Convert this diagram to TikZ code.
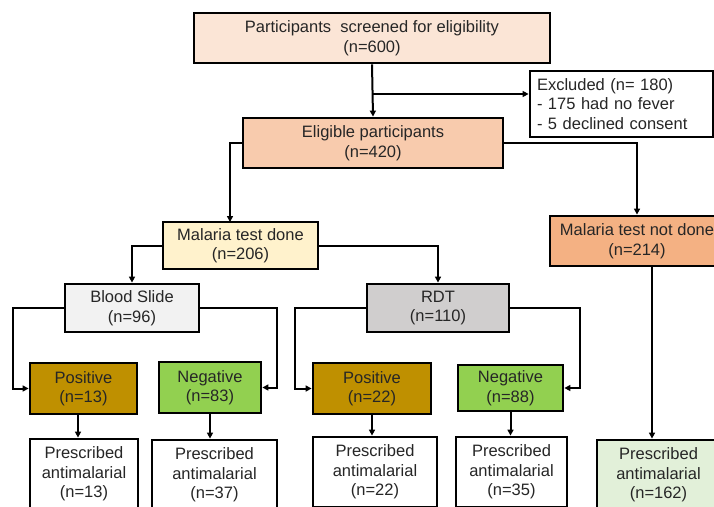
\documentclass[tikz,border=0pt]{standalone}
\usepackage{fontspec}
\setmainfont{Liberation Sans}
\usetikzlibrary{arrows.meta}
\definecolor{cTop}{HTML}{FBE5D6}
\definecolor{cElig}{HTML}{F8CBAD}
\definecolor{cDone}{HTML}{FFF2CC}
\definecolor{cNot}{HTML}{F4B183}
\definecolor{cBlood}{HTML}{F2F2F2}
\definecolor{cRdt}{HTML}{D0CECE}
\definecolor{cPos}{HTML}{BF9000}
\definecolor{cNeg}{HTML}{92D050}
\definecolor{cPres}{HTML}{E2F0D9}
\definecolor{cTxt}{HTML}{262626}
\begin{document}
\begin{tikzpicture}[x=1pt,y=1pt,
  box/.style={draw=black, line width=2.8pt, align=center, inner sep=0pt,
    text=cTxt, font=\fontsize{16.5}{19.5}\selectfont},
  arr/.style={draw=black, line width=2pt, -{Triangle[length=6pt,width=6pt]}},
  ln/.style={draw=black, line width=2pt}]
\useasboundingbox (0,0) rectangle (714,-506);
\fill[white] (0,0) rectangle (714,-506);

\node[box, fill=cTop, minimum width=356, minimum height=50] (top) at (372,-38)
  {Participants\ \ screened for eligibility\\(n=600)};
\node[box, fill=white, minimum width=183, minimum height=66, text width=169,
  align=left] (excl) at (621.5,-104)
  {Excluded (n= 180)\\- 175 had no fever\\- 5 declined consent};
\node[box, fill=cElig, minimum width=260, minimum height=50] (elig) at (373,-143)
  {Eligible participants\\(n=420)};
\node[box, fill=cDone, minimum width=155, minimum height=47] (done) at (240.5,-245.5)
  {Malaria test done\\(n=206)};
\node[box, fill=cNot, minimum width=174, minimum height=50] (notdone) at (637,-241)
  {Malaria test not done\\(n=214)};
\node[box, fill=cBlood, minimum width=134, minimum height=48] (blood) at (132,-308)
  {Blood Slide\\(n=96)};
\node[box, fill=cRdt, minimum width=142, minimum height=48] (rdt) at (438,-308)
  {RDT\\(n=110)};
\node[box, fill=cPos, minimum width=107, minimum height=51] (pos1) at (83.5,-388.5)
  {Positive\\(n=13)};
\node[box, fill=cNeg, minimum width=102, minimum height=51] (neg1) at (210,-387.5)
  {Negative\\(n=83)};
\node[box, fill=cPos, minimum width=118, minimum height=51] (pos2) at (372,-388.5)
  {Positive\\(n=22)};
\node[box, fill=cNeg, minimum width=105, minimum height=46] (neg2) at (510.5,-388)
  {Negative\\(n=88)};
\node[box, fill=white, minimum width=108, minimum height=70] (pr1) at (84,-474)
  {Prescribed\\antimalarial\\(n=13)};
\node[box, fill=white, minimum width=125, minimum height=70] (pr2) at (214.5,-475)
  {Prescribed\\antimalarial\\(n=37)};
\node[box, fill=white, minimum width=124, minimum height=70] (pr3) at (375,-472)
  {Prescribed\\antimalarial\\(n=22)};
\node[box, fill=white, minimum width=111, minimum height=70] (pr4) at (511.5,-472)
  {Prescribed\\antimalarial\\(n=35)};
\node[box, fill=cPres, minimum width=123, minimum height=70] (pr5) at (658.5,-475)
  {Prescribed\\antimalarial\\(n=162)};

% connectors
\coordinate (br) at (373,-94);
\draw[arr] (top.south) -- (elig.north);
\draw[arr] (br) -- (br -| excl.west);
\coordinate (doneIn) at (230,-222);
\draw[arr] (elig.west) -| (doneIn);
\draw[arr] (elig.east) -| (notdone.north);
\draw[arr] (done.west) -| (blood.north);
\draw[arr] (done.east) -| (rdt.north);
\coordinate (bL) at (13,-308);
\coordinate (bR) at (277,-308);
\coordinate (rL) at (295,-308);
\coordinate (rR) at (580,-308);
\draw[arr] (blood.west) -- (bL) |- (pos1.west);
\draw[arr] (blood.east) -- (bR) |- (neg1.east);
\draw[arr] (rdt.west) -- (rL) |- (pos2.west);
\draw[arr] (rdt.east) -- (rR) |- (neg2.east);
\coordinate (p1s) at (78,-414);
\draw[arr] (p1s) -- (p1s |- pr1.north);
\draw[arr] (neg1.south) -- (neg1.south |- pr2.north);
\draw[arr] (pos2.south) -- (pos2.south |- pr3.north);
\draw[arr] (neg2.south) -- (neg2.south |- pr4.north);
\coordinate (nd) at (652,-266);
\draw[arr] (nd) -- (nd |- pr5.north);
\end{tikzpicture}
\end{document}
